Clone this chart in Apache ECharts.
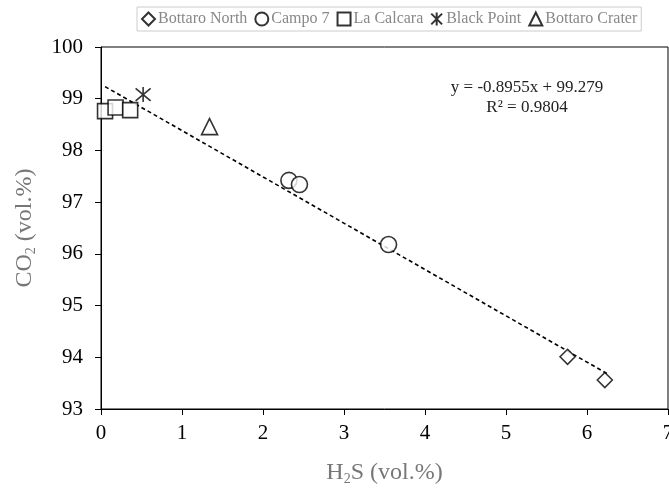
<!DOCTYPE html>
<html>
<head>
<meta charset="utf-8">
<script src="https://cdn.jsdelivr.net/npm/echarts@6/dist/echarts.min.js"></script>
<style>
  html, body { margin: 0; padding: 0; background: #fff; }
  #chart { width: 669px; height: 493px; }
</style>
</head>
<body>
<div id="chart"></div>
<script>
    // data
    var bottaroNorth = [[5.76, 94.01], [6.22, 93.56]];
    var campo7 = [[2.32, 97.42], [2.45, 97.34], [3.55, 96.18]];
    var laCalcara = [[0.05, 98.76], [0.18, 98.83], [0.36, 98.78]];
    var blackPoint = [[0.52, 99.08]];
    var bottaroCrater = [[1.34, 98.46]];

    // regression shown on the chart
    var slope = -0.8955;
    var intercept = 99.279;
    var r2 = 0.9804;
    var trendX = [0.05, 6.25];

    var xTicks = [0, 7, 1];
    var yTicks = [93, 100, 1];

    var trend = [];
    for (var i = 0; i < trendX.length; i++) {
        trend.push([trendX[i], slope * trendX[i] + intercept]);
    }

    var serif = 'Liberation Serif';
    var starPath = 'path://M0,0L10,10M10,0L0,10M5,-1L5,11';

    function pts(name, symbol, size, data) {
        return {
            name: name,
            type: 'scatter',
            symbol: symbol,
            symbolSize: size,
            data: data,
            z: 5,
            itemStyle: {
                color: '#fff',
                borderColor: '#000',
                borderWidth: 1.6
            }
        };
    }

    var titleRich = {
        t: { fontFamily: serif, fontSize: 24, color: '#777' },
        s: { fontFamily: serif, fontSize: 14, color: '#777', verticalAlign: 'bottom', padding: [12, 0, 0, 0] }
    };

    var mychart = echarts.init(document.getElementById('chart'));
    mychart.setOption({
        animation: false,
        legend: {
            top: 7,
            left: 137,
            padding: [4, 4, 4, 4],
            itemGap: 7,
            itemWidth: 13,
            itemHeight: 13,
            borderColor: '#ccc',
            borderWidth: 1,
            data: ['Bottaro North', 'Campo 7', 'La Calcara', 'Black Point', 'Bottaro Crater'],
            itemStyle: { borderWidth: 2 },
            textStyle: { fontFamily: serif, fontSize: 16, color: '#888', padding: [0, 0, 0, -2] }
        },
        grid: {
            left: 101,
            top: 47,
            right: 1,
            bottom: 84,
            outerBoundsMode: 'none',
            containLabel: false,
            show: true,
            borderColor: '#000',
            borderWidth: 1
        },
        xAxis: {
            type: 'value',
            min: xTicks[0],
            max: xTicks[1],
            interval: xTicks[2],
            name: '{t|H}{s|2}{t|S (vol.%)}',
            nameLocation: 'middle',
            nameGap: 51,
            nameTextStyle: { rich: titleRich },
            axisLine: { lineStyle: { color: '#000', width: 1 } },
            axisTick: { show: true, inside: false, length: 6, lineStyle: { color: '#000' } },
            axisLabel: { fontFamily: serif, fontSize: 21, color: '#000', margin: 14 },
            splitLine: { show: false }
        },
        yAxis: {
            type: 'value',
            min: yTicks[0],
            max: yTicks[1],
            interval: yTicks[2],
            name: '{t|CO}{s|2}{t| (vol.%)}',
            nameLocation: 'middle',
            nameGap: 63,
            nameRotate: 90,
            nameTextStyle: { rich: titleRich },
            axisLine: { show: true, lineStyle: { color: '#000', width: 1 } },
            axisTick: { show: true, inside: false, length: 6, lineStyle: { color: '#000' } },
            axisLabel: { fontFamily: serif, fontSize: 21, color: '#000', margin: 18 },
            splitLine: { show: false }
        },
        graphic: [{
            type: 'text',
            x: 527,
            y: 88,
            style: {
                text: 'y = ' + slope + 'x + ' + intercept,
                fontFamily: serif,
                fontSize: 17,
                fill: '#222',
                align: 'center',
                verticalAlign: 'middle'
            }
        }, {
            type: 'text',
            x: 527,
            y: 108,
            style: {
                text: 'R² = ' + r2,
                fontFamily: serif,
                fontSize: 17,
                fill: '#222',
                align: 'center',
                verticalAlign: 'middle'
            }
        }],
        series: [
            pts('Bottaro North', 'diamond', 15, bottaroNorth),
            pts('Campo 7', 'circle', 16, campo7),
            pts('La Calcara', 'rect', 15, laCalcara),
            pts('Black Point', starPath, 15, blackPoint),
            pts('Bottaro Crater', 'triangle', 16, bottaroCrater),
            {
                type: 'line',
                data: trend,
                symbol: 'none',
                silent: true,
                z: 3,
                lineStyle: { color: '#000', width: 1.6, type: [4, 3] }
            }
        ]
    });
</script>
</body>
</html>
